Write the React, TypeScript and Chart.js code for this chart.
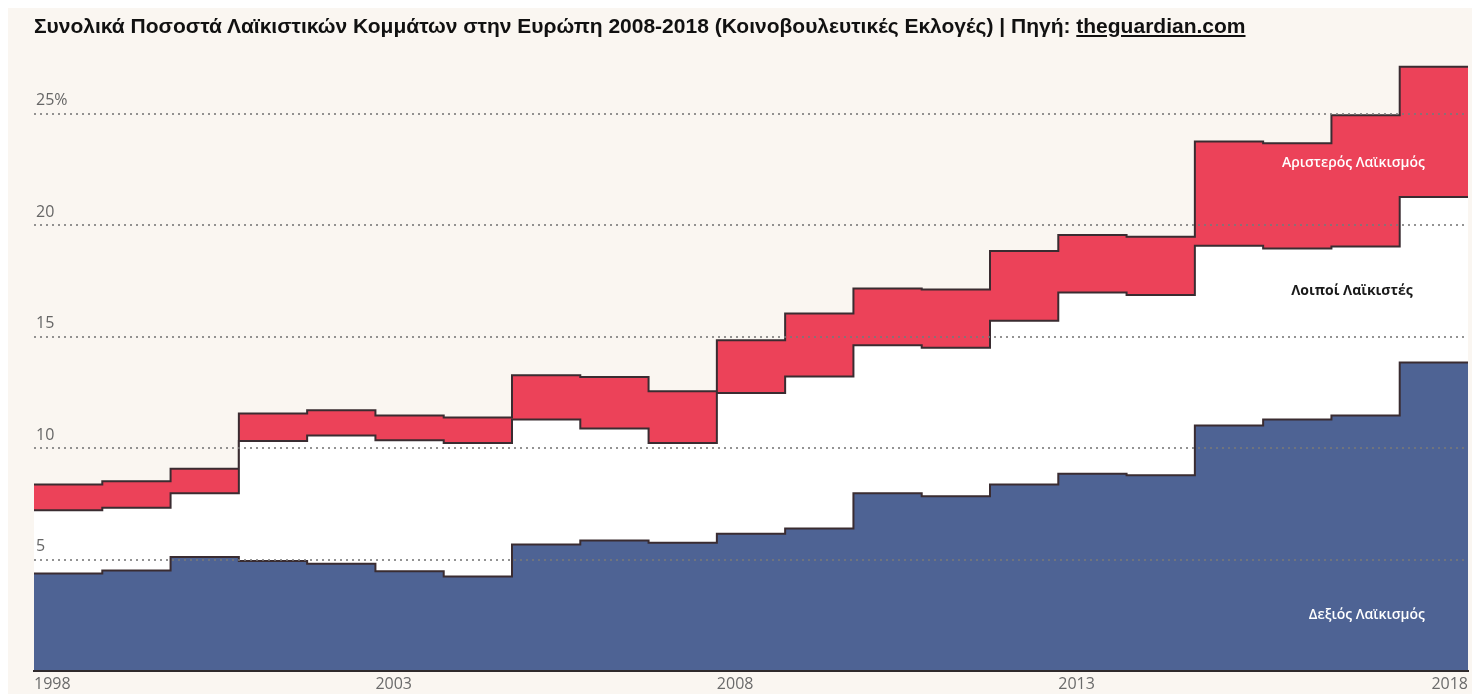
import React, { useEffect, useRef } from 'react';
import { Chart, registerables } from 'chart.js';

Chart.register(...registerables);

// Election years (each value holds until the next year)
const years = [1998, 1999, 2000, 2001, 2002, 2003, 2004, 2005, 2006, 2007, 2008, 2009, 2010, 2011, 2012, 2013, 2014, 2015, 2016, 2017, 2018];

// Vote shares (%) – stacked: right-wing, other, left-wing populism
const rightPopulism = [4.37, 4.51, 5.12, 4.94, 4.81, 4.48, 4.24, 5.68, 5.86, 5.76, 6.16, 6.39, 7.98, 7.84, 8.37, 8.85, 8.78, 11.02, 11.28, 11.47, 13.84];
const otherPopulism = [2.84, 2.82, 2.86, 5.38, 5.76, 5.87, 5.99, 5.61, 5.02, 4.47, 6.31, 6.83, 6.64, 6.67, 7.35, 8.13, 8.09, 8.06, 7.68, 7.58, 7.43];
const leftPopulism = [1.16, 1.19, 1.10, 1.24, 1.13, 1.12, 1.15, 1.98, 2.31, 2.32, 2.37, 2.82, 2.54, 2.61, 3.13, 2.58, 2.61, 4.68, 4.72, 5.89, 5.84];

const seriesNames = ['Δεξιός Λαϊκισμός', 'Λοιποί Λαϊκιστές', 'Αριστερός Λαϊκισμός'];
const xTickYears = [1998, 2003, 2008, 2013, 2018];
const yTickValues = [5, 10, 15, 20, 25];

const TITLE = 'Συνολικά Ποσοστά Λαϊκιστικών Κομμάτων στην Ευρώπη 2008-2018 (Κοινοβουλευτικές Εκλογές) | Πηγή: ';
const SOURCE = 'theguardian.com';

// Label anchors in data coordinates (right edge of text)
const labelAnchors = [
  { x: 2018.37, y: 2.5, color: '#ffffff', weight: 600 },
  { x: 2018.19, y: 17.05, color: '#1a1a1a', weight: 700 },
  { x: 2018.37, y: 22.8, color: '#ffffff', weight: 600 },
];

const BG = '#faf6f1';
const RED = '#ec4259';
const BLUE = '#4e6394';
const EDGE = '#3a2c31';

function toSteps(values: number[]) {
  const pts = years.map((yr, i) => ({ x: yr, y: values[i] }));
  pts.push({ x: years[years.length - 1] + 1, y: values[values.length - 1] });
  return pts;
}

const textPlugin = {
  id: 'customText',
  afterDraw(chart: any) {
    const { ctx, chartArea } = chart;
    const xs = chart.scales.x;
    const ys = chart.scales.y;
    ctx.save();
    // x-axis labels
    ctx.font = '16px "Open Sans", "Noto Sans", sans-serif';
    ctx.fillStyle = '#6a6a6a';
    ctx.textBaseline = 'top';
    xTickYears.forEach((yr, i) => {
      const last = i === xTickYears.length - 1;
      const px = last ? xs.getPixelForValue(yr + 1) : xs.getPixelForValue(yr);
      ctx.textAlign = last ? 'right' : 'left';
      ctx.fillText(String(yr), px, chartArea.bottom + 5);
    });
    // series labels
    ctx.textAlign = 'right';
    ctx.textBaseline = 'middle';
    labelAnchors.forEach((a, i) => {
      ctx.font = `${a.weight} 14px "Open Sans", "Noto Sans", sans-serif`;
      ctx.fillStyle = a.color;
      ctx.fillText(seriesNames[i], xs.getPixelForValue(a.x), ys.getPixelForValue(a.y));
    });
    ctx.restore();
  },
};

export default function App() {
  const ref = useRef<HTMLCanvasElement | null>(null);

  useEffect(() => {
    document.documentElement.style.overflow = 'hidden';
    document.body.style.overflow = 'hidden';
    const canvas = ref.current;
    if (!canvas) return;
    const common = {
      stepped: 'before' as const,
      pointRadius: 0,
      pointHoverRadius: 0,
      borderColor: EDGE,
      borderWidth: 2,
      tension: 0,
    };
    const chart = new Chart(canvas, {
      type: 'line',
      data: {
        datasets: [
          { ...common, label: seriesNames[0], data: toSteps(rightPopulism), backgroundColor: BLUE, fill: 'origin' },
          { ...common, label: seriesNames[1], data: toSteps(otherPopulism), backgroundColor: '#ffffff', fill: '-1' },
          { ...common, label: seriesNames[2], data: toSteps(leftPopulism), backgroundColor: RED, fill: '-1' },
        ],
      },
      options: {
        animation: false,
        responsive: false,
        maintainAspectRatio: false,
        events: [],
        layout: { padding: { left: 22, right: 4, top: 39, bottom: 23 } },
        plugins: {
          legend: { display: false },
          tooltip: { enabled: false },
          title: { display: false },
        },
        scales: {
          x: {
            type: 'linear',
            min: years[0],
            max: years[years.length - 1] + 1,
            grid: { display: false, drawTicks: false },
            ticks: { display: false },
            border: { display: true, color: '#2f2a2c', width: 2, z: 2 },
          },
          y: {
            type: 'linear',
            stacked: true,
            min: 0,
            max: 28,
            afterBuildTicks: (scale: any) => {
              scale.ticks = [0, ...yTickValues].map((v) => ({ value: v }));
            },
            grid: {
              z: 1,
              drawTicks: false,
              lineWidth: 2,
              color: (c: any) => (c.tick && c.tick.value === 0 ? 'rgba(0,0,0,0)' : 'rgba(120,120,120,0.8)'),
            },
            border: { display: false, dash: [2, 4] },
            ticks: {
              z: 1,
              mirror: true,
              padding: 2,
              labelOffset: -13,
              color: '#666666',
              font: { size: 16, family: '"Open Sans", "Noto Sans", sans-serif' },
              callback: (v: any) => (v === 0 ? '' : v === 25 ? '25%' : String(v)),
            },
          },
        },
      },
      plugins: [textPlugin],
    });
    return () => chart.destroy();
  }, []);

  return (
    <div style={{ position: 'relative', width: 1464, height: 686, background: BG, overflow: 'hidden' }}>
      <div
        style={{
          position: 'absolute',
          left: 26,
          top: 7,
          fontFamily: '"Liberation Sans", Arial, sans-serif',
          fontWeight: 'bold',
          fontSize: 21,
          lineHeight: '22px',
          color: '#111',
          whiteSpace: 'nowrap',
        }}
      >
        {TITLE}
        <span style={{ textDecoration: 'underline' }}>{SOURCE}</span>
      </div>
      <canvas ref={ref} width={1464} height={686} style={{ display: 'block' }} />
    </div>
  );
}
